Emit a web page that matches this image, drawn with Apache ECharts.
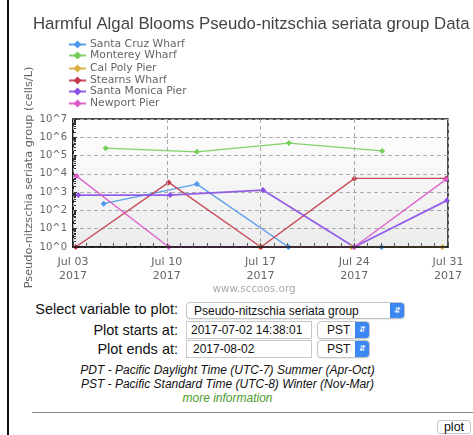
<!DOCTYPE html>
<html>
<head>
<meta charset="utf-8">
<script src="https://cdn.jsdelivr.net/npm/echarts@6/dist/echarts.min.js"></script>
<style>
html,body{margin:0;padding:0;background:#fff;width:473px;height:435px;overflow:hidden;position:relative;font-family:"Liberation Sans",Arial,sans-serif;}
#chart{position:absolute;left:0;top:0;width:473px;height:300px;}
.vline{position:absolute;left:7px;top:0;width:1.5px;height:435px;background:#111;}
.lbl{position:absolute;right:295px;font-size:14.5px;color:#111;white-space:nowrap;line-height:16px;}
.box{position:absolute;box-sizing:border-box;border:1px solid #c8c8c8;background:#fff;font-size:12px;color:#111;white-space:nowrap;line-height:16px;}
.sel{border-radius:4px;border:1px solid #c4c4c4;box-shadow:0 1px 1px rgba(0,0,0,0.08);}
.step{position:absolute;top:0;right:0;bottom:0;width:14px;background:#3d87f5;border-radius:0 3px 3px 0;color:#fff;font-size:8px;text-align:center;line-height:15px;}
.note{position:absolute;left:0;width:455px;text-align:center;font-style:italic;font-size:12px;color:#111;white-space:nowrap;}
.hr{position:absolute;left:32px;top:412px;width:441px;height:1px;background:#8a8a8a;}
.btn{position:absolute;left:437px;top:420px;width:34px;height:14px;box-sizing:border-box;border:1px solid #c8c8c8;border-radius:3px;font-size:12.5px;line-height:12px;text-align:center;color:#111;background:#fff;}
</style>
</head>
<body>
<div class="vline"></div>
<div id="chart"></div>

<div class="lbl" style="top:301px;">Select variable to plot:</div>
<div class="box sel" style="left:186px;top:302px;width:219px;height:17px;padding-left:7px;">Pseudo-nitzschia seriata group<div class="step">&#8693;</div></div>

<div class="lbl" style="top:322px;">Plot starts at:</div>
<div class="box" style="left:186px;top:321px;width:126px;height:18px;padding-left:4px;">2017-07-02 14:38:01</div>
<div class="box sel" style="left:317px;top:321px;width:53px;height:18px;padding-left:9px;">PST<div class="step">&#8693;</div></div>

<div class="lbl" style="top:341px;">Plot ends at:</div>
<div class="box" style="left:186px;top:340px;width:126px;height:18px;padding-left:6px;">2017-08-02</div>
<div class="box sel" style="left:317px;top:340px;width:53px;height:18px;padding-left:9px;">PST<div class="step">&#8693;</div></div>

<div class="note" style="top:363px;">PDT - Pacific Daylight Time (UTC-7) Summer (Apr-Oct)</div>
<div class="note" style="top:377px;">PST - Pacific Standard Time (UTC-8) Winter (Nov-Mar)</div>
<div class="note" style="top:391px;color:#4b9a2c;">more information</div>
<div class="hr"></div>
<div class="btn">plot</div>

<script>
// ---- data (cells/L); sample times ----
const stations = ['Santa Cruz Wharf','Monterey Wharf','Cal Poly Pier','Stearns Wharf','Santa Monica Pier','Newport Pier'];
const colors = ['#4b98ee','#74cd5a','#d8ae40','#c23a48','#8a50e6','#dc58c8'];

const santaCruzTimes  = ['2017-07-05 07:00','2017-07-12 06:00','2017-07-19 02:00','2017-07-26 01:00'];
const santaCruzVals   = [234, 2750, 0, 0];
const montereyTimes   = ['2017-07-05 10:30','2017-07-12 06:00','2017-07-19 03:00','2017-07-26 02:00'];
const montereyVals    = [255000, 160000, 480000, 180000];
const calPolyTimes    = ['2017-07-16 23:00','2017-07-23 19:00','2017-07-30 14:00'];
const calPolyVals     = [0, 0, 0];
const stearnsTimes    = ['2017-07-03 05:00','2017-07-10 03:30','2017-07-17 00:45','2017-07-24 00:30','2017-07-30 20:30'];
const stearnsVals     = [0, 3400, 0, 5650, 5650];
const santaMonicaTimes= ['2017-07-03 09:30','2017-07-10 06:00','2017-07-17 04:20','2017-07-24 00:00','2017-07-30 22:20'];
const santaMonicaVals = [690, 690, 1300, 0, 355];
const newportTimes    = ['2017-07-03 06:30','2017-07-10 03:30','2017-07-24 00:00','2017-07-30 20:30'];
const newportVals     = [7550, 0, 0, 5000];

const xTickLabels = ['Jul 03\n2017','Jul 10\n2017','Jul 17\n2017','Jul 24\n2017','Jul 31\n2017'];
const yTickLabels = ['10^0','10^1','10^2','10^3','10^4','10^5','10^6','10^7'];

const title = 'Harmful Algal Blooms Pseudo-nitzschia seriata group Data';
const yName = 'Pseudo-nitzschia seriata group (cells/L)';
const credit = 'www.sccoos.org';

// ---- build ----
const origin = Date.UTC(2017, 6, 3);
function toDays(s){
  const p = s.split(/[- :]/).map(Number);
  return (Date.UTC(p[0], p[1]-1, p[2], p[3], p[4]) - origin) / 86400000;
}
function pairs(times, vals){
  return times.map((t,i)=>[toDays(t), Math.max(vals[i], 1)]);
}
const seriesData = [
  pairs(santaCruzTimes, santaCruzVals),
  pairs(montereyTimes, montereyVals),
  pairs(calPolyTimes, calPolyVals),
  pairs(stearnsTimes, stearnsVals),
  pairs(santaMonicaTimes, santaMonicaVals),
  pairs(newportTimes, newportVals)
];
const legendTops = [39, 50, 63, 75, 86, 98];

const minorY = [];
for (let n = 0; n < 7; n++) for (let k = 2; k <= 9; k++) minorY.push(n + Math.log10(k));

const chart = echarts.init(document.getElementById('chart'), null, {renderer:'canvas'});
const FONT = '"DejaVu Sans", Verdana, sans-serif';

chart.setOption({
  animation: false,
  textStyle: {fontFamily: FONT},
  title: {
    text: title, left: 33, top: 16, padding: 0,
    textStyle: {fontFamily: '"Liberation Sans", Arial, sans-serif', fontSize: 16.8, fontWeight: 'normal', color: '#444'}
  },
  legend: stations.map((s,i)=>({
    data: [s], left: 68, top: legendTops[i], padding: 0,
    itemWidth: 17, itemHeight: 10, selectedMode: false,
    textStyle: {fontFamily: FONT, fontSize: 10.8, color: '#666', padding: [0,0,0,-1]}
  })),
  grid: {
    left: 73, top: 119, width: 375, height: 128,
    outerBoundsMode: 'none', containLabel: false,
    show: true, borderColor: '#111', borderWidth: 1.5,
    backgroundColor: new echarts.graphic.LinearGradient(0,0,0,1,[{offset:0,color:'#ffffff'},{offset:1,color:'#ececec'}])
  },
  xAxis: {
    type: 'value', min: 0, max: 28, interval: 7, z: 3,
    axisLine: {show: true, lineStyle: {color: '#111', width: 1.5}},
    axisTick: {show: true, inside: true, length: 4, lineStyle: {color: '#555'}},
    minorTick: {show: true, splitNumber: 7, length: 4, lineStyle: {color: '#555'}},
    splitLine: {show: true, lineStyle: {color: '#aaa', type: [4,3], width: 1}},
    axisLabel: {
      margin: 8, fontFamily: FONT, fontSize: 11, color: '#666', lineHeight: 14,
      formatter: v => xTickLabels[Math.round(v/7)]
    }
  },
  yAxis: [{
    type: 'log', logBase: 10, min: 1, max: 1e7, interval: 1,
    name: yName, nameLocation: 'middle', nameGap: 38, nameRotate: 90, nameMoveOverlap: false,
    nameTextStyle: {fontFamily: FONT, fontSize: 11.3, color: '#666', padding: [0,0,0,11]},
    axisLine: {show: true, lineStyle: {color: '#111', width: 1.5}},
    axisTick: {show: true, inside: true, length: 4, lineStyle: {color: '#333'}},
    splitLine: {show: true, lineStyle: {color: '#aaa', type: [4,3], width: 1}},
    axisLabel: {
      margin: 6, fontFamily: FONT, fontSize: 10, color: '#666',
      formatter: v => yTickLabels[Math.round(Math.log10(v))]
    }
  }, {
    type: 'value', min: 0, max: 7, position: 'left',
    axisLine: {show: false},
    axisLabel: {show: false},
    splitLine: {show: false},
    axisTick: {show: true, inside: true, length: 3, customValues: minorY, lineStyle: {color: '#333'}}
  }],
  graphic: [{
    type: 'text', x: 254, y: 289,
    style: {text: credit, fontFamily: FONT, fontSize: 10.4, fill: '#aaa', align: 'center', verticalAlign: 'middle'}
  }],
  series: stations.map((s,i)=>({
    name: s, type: 'line', data: seriesData[i], yAxisIndex: 0, z: 2,
    symbol: 'diamond', symbolSize: 6,
    itemStyle: {color: colors[i]},
    lineStyle: {color: colors[i], width: i === 4 ? 1.8 : 1.4, opacity: 0.9}
  }))
});
</script>
</body>
</html>
